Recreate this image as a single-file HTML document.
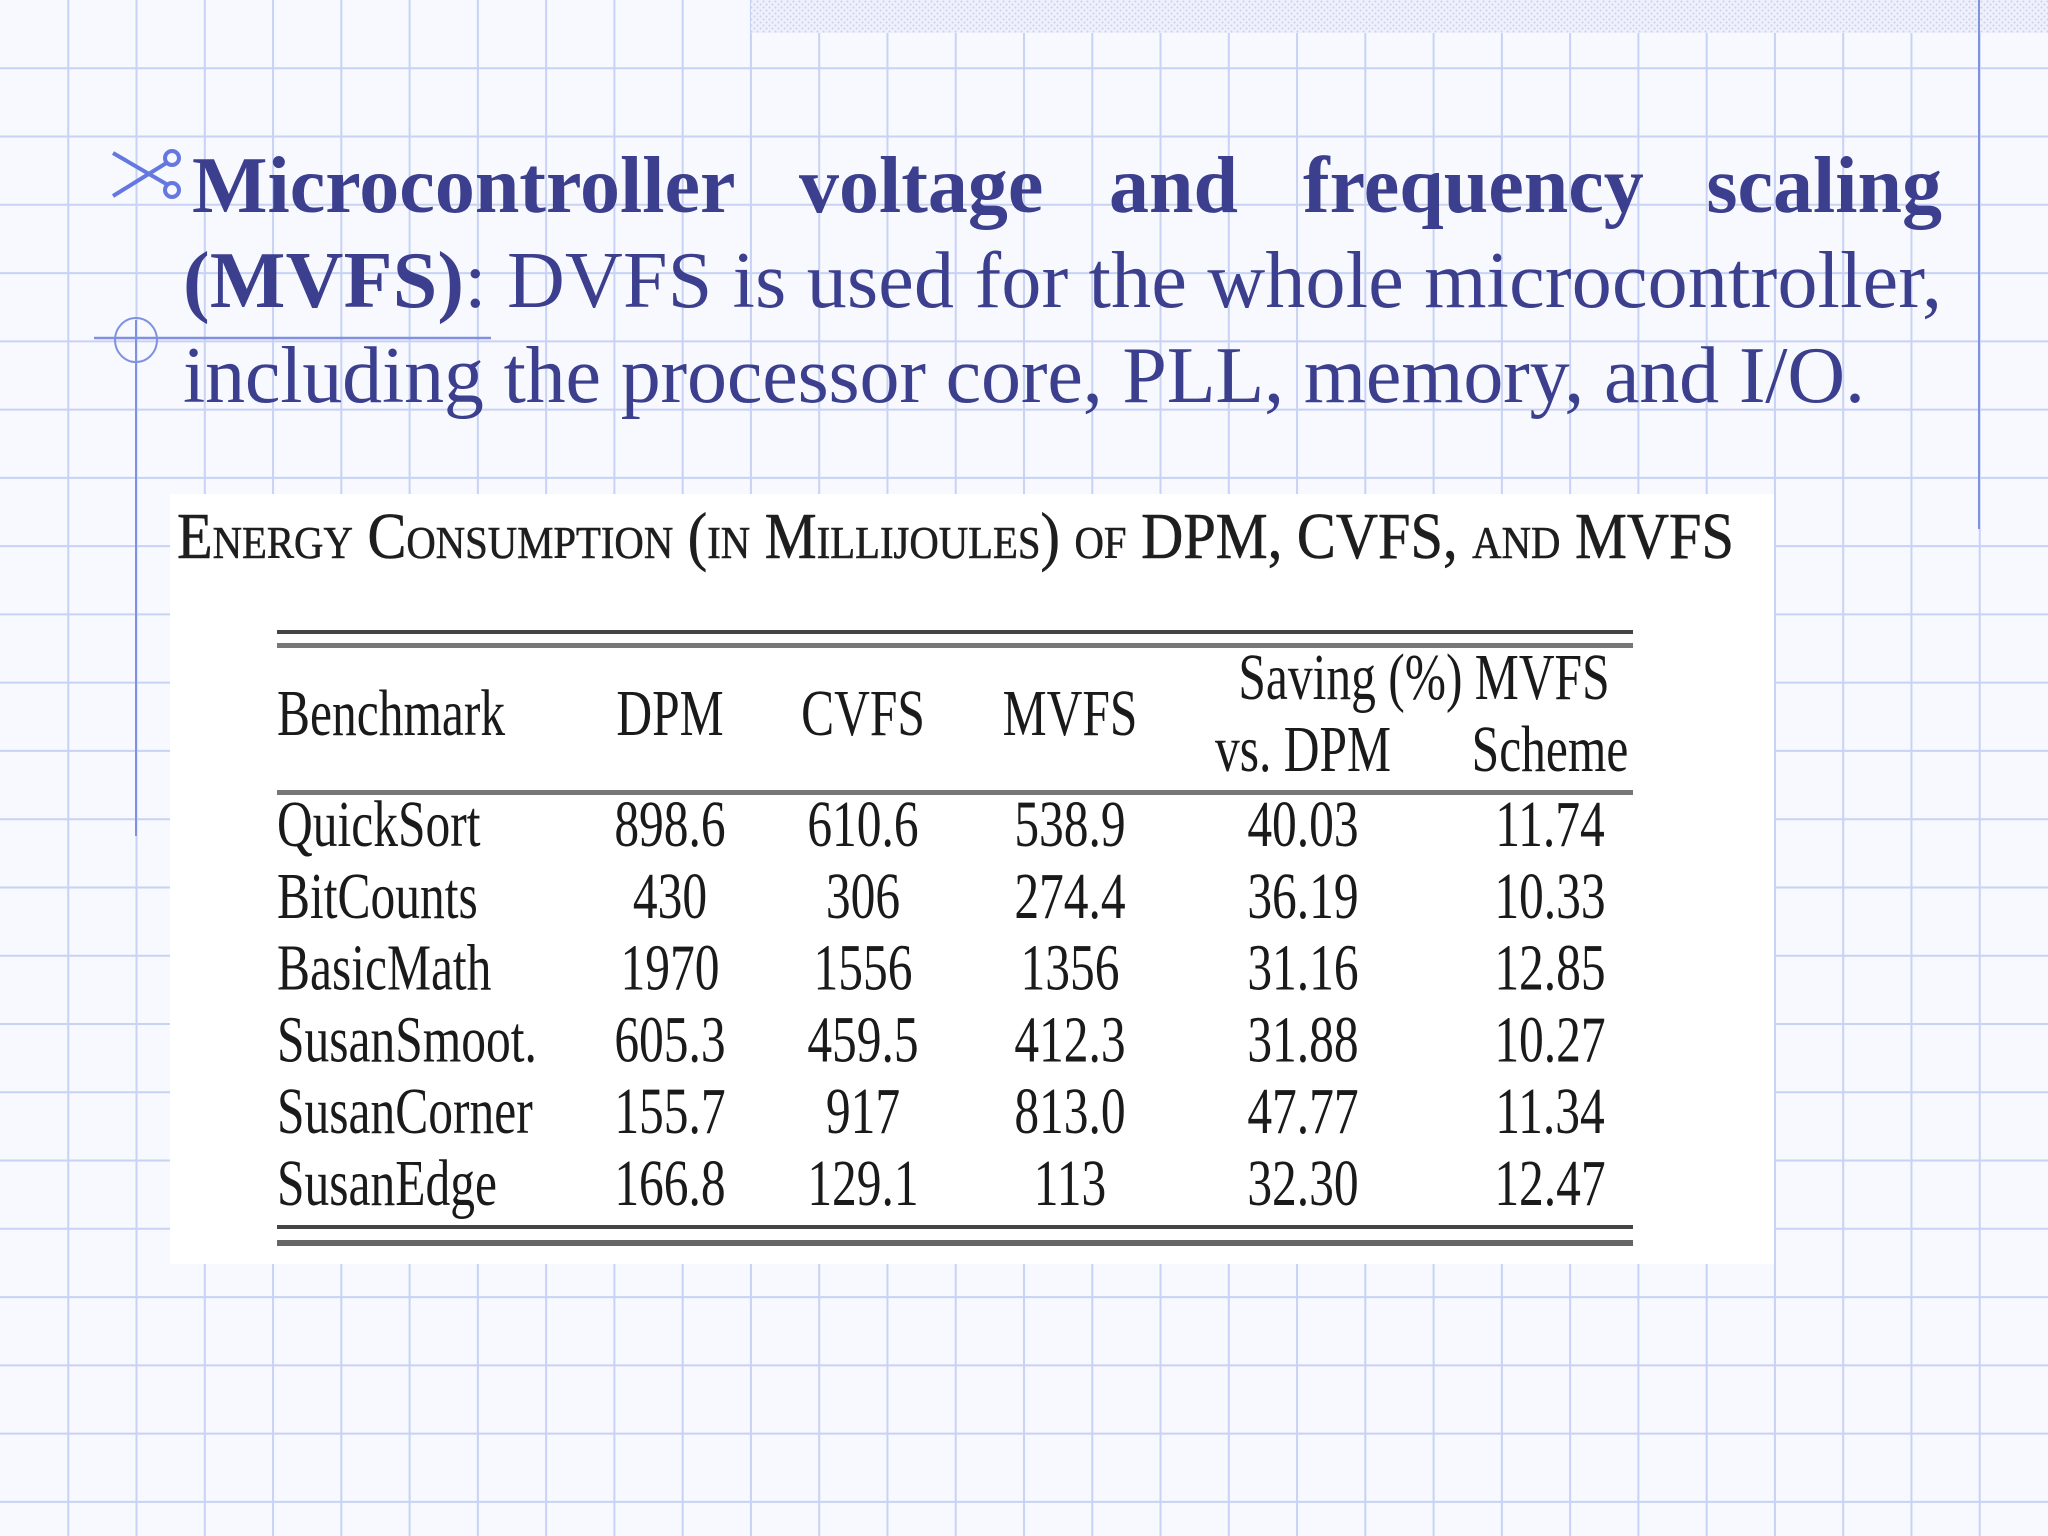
<!DOCTYPE html>
<html><head><meta charset="utf-8">
<style>
html,body{margin:0;padding:0;}
body{width:2048px;height:1536px;overflow:hidden;background:#f8f9fe;}
svg{display:block;}
</style></head>
<body>
<svg id="slide" width="2048" height="1536" viewBox="0 0 2048 1536" xmlns="http://www.w3.org/2000/svg">
  <defs>
    <pattern id="dots" width="6" height="6" patternUnits="userSpaceOnUse">
      <rect width="6" height="6" fill="#eef0fb"/>
      <circle cx="1.5" cy="1.5" r="1" fill="#c9cfee"/>
      <circle cx="4.5" cy="4.5" r="1" fill="#c9cfee"/>
    </pattern>
  </defs>
  <rect width="2048" height="1536" fill="#f8f9fe"/>
  <g id="grid"></g>
  <rect x="751" y="0" width="1297" height="33" fill="url(#dots)"/>
  <line x1="1979" y1="0" x2="1979" y2="529" stroke="#7f91e0" stroke-width="2"/>
  <line x1="136" y1="320" x2="136" y2="836" stroke="#7f91e0" stroke-width="2"/>
  <line x1="94" y1="338" x2="491" y2="338" stroke="#7f91e0" stroke-width="2.5"/>
  <ellipse cx="136" cy="340" rx="21" ry="22" fill="none" stroke="#7f91e0" stroke-width="2"/>

  <g stroke="#6478e0" stroke-width="4" fill="none">
    <line x1="113" y1="153" x2="168" y2="185"/>
    <line x1="113" y1="196" x2="168" y2="162"/>
    <circle cx="172" cy="158" r="7"/>
    <circle cx="172" cy="190" r="7"/>
  </g>

  <g fill="#3b3f8e" font-family="'Liberation Serif', serif" font-size="80">
    <g font-weight="bold">
      <text x="192" y="212">Microcontroller</text>
      <text x="799" y="212">voltage</text>
      <text x="1109" y="212">and</text>
      <text x="1303" y="212">frequency</text>
      <text x="1942" y="212" text-anchor="end">scaling</text>
    </g>
    <text x="183" y="307" textLength="1759" lengthAdjust="spacing"><tspan font-weight="bold">(MVFS)</tspan>: DVFS is used for the whole microcontroller,</text>
    <text x="183" y="402" textLength="1682" lengthAdjust="spacing">including the processor core, PLL, memory, and I/O.</text>
  </g>

  <rect x="170" y="494" width="1604" height="770" fill="#ffffff"/>
  <text x="177" y="558" font-family="'Liberation Serif', serif" font-size="66" fill="#1e1e1e" stroke="#1e1e1e" stroke-width="0.6" style="font-variant:small-caps" textLength="1557" lengthAdjust="spacingAndGlyphs">Energy Consumption (in Millijoules) of DPM, CVFS, and MVFS</text>

  <g>
    <rect x="277" y="630" width="1356" height="4" fill="#444"/>
    <rect x="277" y="643" width="1356" height="5" fill="#777"/>
    <rect x="277" y="790" width="1356" height="5" fill="#777"/>
    <rect x="277" y="1225" width="1356" height="4" fill="#444"/>
    <rect x="277" y="1240" width="1356" height="6" fill="#666"/>
  </g>
  <g id="table" font-family="'Liberation Serif', serif" font-size="66" fill="#1a1a1a"></g>
</svg>
<script>
const benchmarks = ["QuickSort","BitCounts","BasicMath","SusanSmoot.","SusanCorner","SusanEdge"];
const dpmValues = ["898.6","430","1970","605.3","155.7","166.8"];
const cvfsValues = ["610.6","306","1556","459.5","917","129.1"];
const mvfsValues = ["538.9","274.4","1356","412.3","813.0","113"];
const savingValues = ["40.03","36.19","31.16","31.88","47.77","32.30"];
const schemeValues = ["11.74","10.33","12.85","10.27","11.34","12.47"];

const NS = "http://www.w3.org/2000/svg";
const grid = document.getElementById('grid');
const step = 2048/30;
for (let i = 1; i < 30; i++) {
  const l = document.createElementNS(NS,'line');
  l.setAttribute('x1', i*step); l.setAttribute('x2', i*step);
  l.setAttribute('y1', 0); l.setAttribute('y2', 1536);
  l.setAttribute('stroke', '#c7d2f5'); l.setAttribute('stroke-width', '2');
  
  
  grid.appendChild(l);
}
for (let j = 1; j < 23; j++) {
  const l = document.createElementNS(NS,'line');
  l.setAttribute('y1', j*step); l.setAttribute('y2', j*step);
  l.setAttribute('x1', 0); l.setAttribute('x2', 2048);
  l.setAttribute('stroke', '#c7d2f5'); l.setAttribute('stroke-width', '2');
  
  
  grid.appendChild(l);
}

const table = document.getElementById('table');
const SX = 0.75;
function cell(txt, x, y, anchor, name) {
  const t = document.createElementNS(NS,'text');
  t.setAttribute('transform', `translate(${x},${y}) scale(${SX},1)`);
  t.setAttribute('text-anchor', anchor);
  t.textContent = txt;
  
  
  table.appendChild(t);
}
const colX = [277, 670, 863, 1070, 1303, 1550];
cell("Benchmark", colX[0], 735, "start", "header-benchmark");
cell("DPM", colX[1], 735, "middle", "header-dpm");
cell("CVFS", colX[2], 735, "middle", "header-cvfs");
cell("MVFS", colX[3], 735, "middle", "header-mvfs");
cell("Saving (%) MVFS", 1424, 699, "middle", "header-saving-top");
cell("vs. DPM", colX[4], 771, "middle", "header-vs-dpm");
cell("Scheme", colX[5], 771, "middle", "header-scheme");

const row0 = 846, rowH = 71.8;
benchmarks.forEach((b, i) => {
  const y = row0 + i*rowH;
  cell(b, colX[0], y, "start", "row-benchmark");
  cell(dpmValues[i], colX[1], y, "middle", "cell-dpm");
  cell(cvfsValues[i], colX[2], y, "middle", "cell-cvfs");
  cell(mvfsValues[i], colX[3], y, "middle", "cell-mvfs");
  cell(savingValues[i], colX[4], y, "middle", "cell-saving");
  cell(schemeValues[i], colX[5], y, "middle", "cell-scheme");
});
</script>
</body></html>
